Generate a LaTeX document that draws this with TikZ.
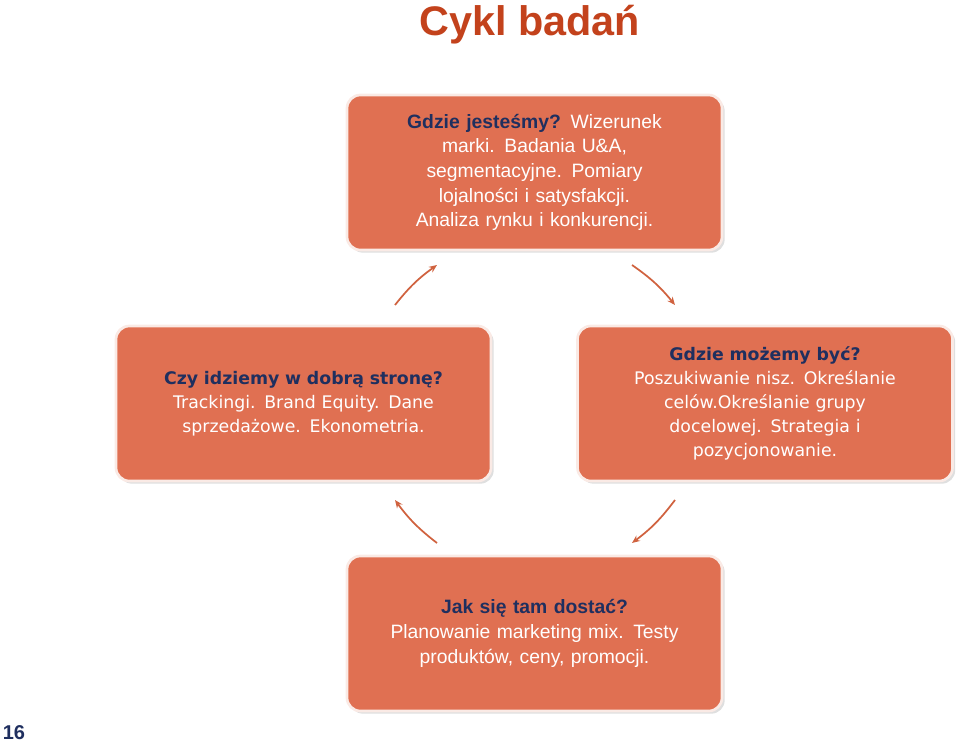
\documentclass[tikz,border=0pt]{standalone}
\usepackage{fontspec}
\setmainfont{DejaVu Sans}
\newfontfamily\arialf{Liberation Sans}
\usetikzlibrary{arrows.meta,shadows}
\definecolor{boxfill}{HTML}{E07052}
\definecolor{navy}{HTML}{1F2F5F}
\definecolor{titlec}{HTML}{C3421C}
\definecolor{arr}{HTML}{D0623F}
\tikzset{
  box/.style={draw=white!85!boxfill,line width=2pt,fill=boxfill,rounded corners=10pt,
    minimum width=375\pxu,minimum height=155\pxu,align=center,text=white,
    drop shadow={shadow xshift=2pt,shadow yshift=-2pt,opacity=0.25}},
  conn/.style={arr,line width=1.3pt,-{Stealth[length=6pt,width=5pt]},shorten >=0pt}
}
\newlength{\pxu}\setlength{\pxu}{0.75pt}
\begin{document}
\begin{tikzpicture}[x=0.75pt,y=-0.75pt]
\useasboundingbox (0,0) rectangle (960,746);
\node[font=\arialf\bfseries\fontsize{31}{36}\selectfont,text=titlec] (title) at (530,25) {Cykl badań};
\node[box,font=\arialf\fontsize{14.5}{18.5}\selectfont,text width=255\pxu] (top) at (534.5,172.5)
 {\textcolor{navy}{\textbf{Gdzie jesteśmy?}} Wizerunek marki. Badania U\&A, segmentacyjne. Pomiary lojalności i satysfakcji. Analiza rynku i konkurencji.};
\node[box,font=\fontsize{13}{18}\selectfont,text width=345\pxu] (left) at (303.5,403.5)
 {\textcolor{navy}{\textbf{Czy idziemy w dobrą stronę?}}\\ Trackingi. Brand Equity. Dane\\ sprzedażowe. Ekonometria.};
\node[box,font=\fontsize{13}{18}\selectfont,text width=345\pxu] (right) at (765,403.5)
 {\textcolor{navy}{\textbf{Gdzie możemy być?}}\\ Poszukiwanie nisz. Określanie\\ celów.Określanie grupy\\ docelowej. Strategia i\\ pozycjonowanie.};
\node[box,font=\arialf\fontsize{14.5}{18.5}\selectfont,text width=355\pxu] (bottom) at (534.5,633.5)
 {\textcolor{navy}{\textbf{Jak się tam dostać?}}\\ Planowanie marketing mix. Testy\\ produktów, ceny, promocji.};
\coordinate (a1) at (395,305); \coordinate (a2) at (437,265);
\coordinate (b1) at (632,265); \coordinate (b2) at (675,305);
\coordinate (c1) at (675,500); \coordinate (c2) at (632,543);
\coordinate (d1) at (437,543); \coordinate (d2) at (395,500);
\draw[conn] (a1) to[bend left=8] (a2);
\draw[conn] (b1) to[bend left=8] (b2);
\draw[conn] (c1) to[bend left=8] (c2);
\draw[conn] (d1) to[bend left=8] (d2);
\node[font=\arialf\bfseries\fontsize{15}{18}\selectfont,text=navy] (pg) at (14,733) {16};
\end{tikzpicture}
\end{document}
